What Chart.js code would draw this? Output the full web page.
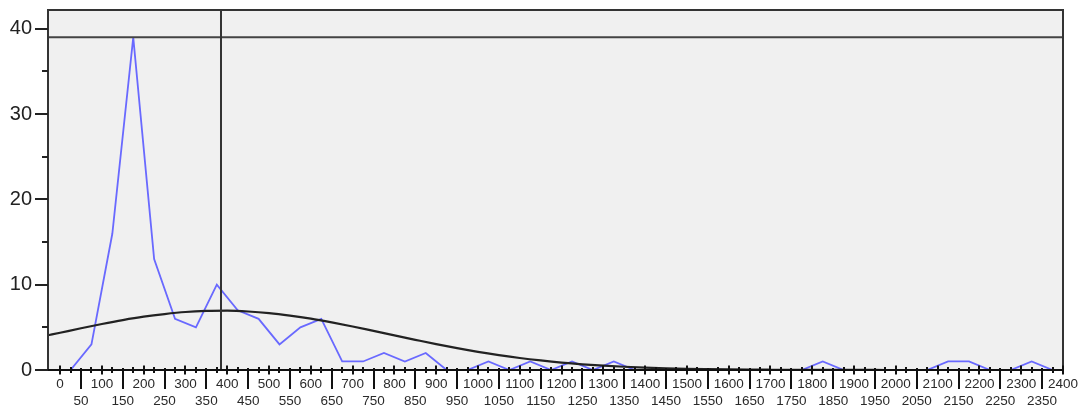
<!DOCTYPE html>
<html>
<head>
<meta charset="utf-8">
<script src="https://cdn.jsdelivr.net/npm/chart.js@4"></script>
<style>
  html, body { margin: 0; padding: 0; background: #ffffff; }
  #wrap { width: 1087px; height: 407px; position: relative; }
</style>
</head>
<body>
<div id="wrap"><canvas id="c" width="1087" height="407"></canvas></div>
<script>
// ---- data ----
const binMids = [25,75,125,175,225,275,325,375,425,475,525,575,625,675,725,775,825,875,925,975,
  1025,1075,1125,1175,1225,1275,1325,1375,1425,1475,1525,1575,1625,1675,1725,1775,1825,1875,
  1925,1975,2025,2075,2125,2175,2225,2275,2325,2375];
const counts = [0,3,16,39,13,6,5,10,7,6,3,5,6,1,1,2,1,2,0,0,
  1,0,1,0,1,0,1,0,0,0,0,0,0,0,0,0,1,0,
  0,0,0,0,1,1,0,0,1,0];

// fitted normal curve
const curveX = [-29,0,50,100,150,200,250,300,350,400,450,500,550,600,650,700,750,800,850,900,950,
  1000,1050,1100,1150,1200,1250,1300,1350,1400,1450,1500,1550,1600,1650,1700,1750,1800,1850,1900,
  1950,2000,2050,2100,2400];
const curveY = [4.07,4.37,4.89,5.39,5.85,6.25,6.56,6.80,6.92,6.95,6.86,6.67,6.38,6.02,5.58,5.10,4.58,4.06,3.54,3.03,2.56,
  2.13,1.75,1.41,1.12,0.87,0.67,0.51,0.38,0.28,0.20,0.14,0.10,0.069,0.047,0.031,0.021,0.013,0.008,0.005,
  0.003,0.002,0.001,0.001,0];

const meanValue = 385;   // vertical reference line
const maxValue = 39;     // horizontal reference line

const xMin = -29, xMax = 2400;
const yMin = 0, yMax = 42.2;
const xLabelValues = [0,50,100,150,200,250,300,350,400,450,500,550,600,650,700,750,800,850,900,950,
  1000,1050,1100,1150,1200,1250,1300,1350,1400,1450,1500,1550,1600,1650,1700,1750,1800,1850,1900,
  1950,2000,2050,2100,2150,2200,2250,2300,2350,2400];
const xMinorTicks = [25,75,125,175,225,275,325,375,425,475,525,575,625,675,725,775,825,875,925,975,
  1025,1075,1125,1175,1225,1275,1325,1375,1425,1475,1525,1575,1625,1675,1725,1775,1825,1875,1925,
  1975,2025,2075,2125,2175,2225,2275,2325,2375];
const yLabelValues = [0,10,20,30,40];
const yMinorTicks = [5,15,25,35];

// ---- build datasets ----
const histPoints = binMids.map((x, i) => ({ x: x, y: counts[i] }));
const curvePoints = curveX.map((x, i) => ({ x: x, y: curveY[i] }));

const framePlugin = {
  id: 'frame',
  beforeDatasetsDraw(chart) {
    const { ctx, chartArea: a } = chart;
    ctx.save();
    ctx.fillStyle = '#f0f0f0';
    ctx.fillRect(a.left, a.top, a.right - a.left, a.bottom - a.top);
    ctx.restore();
  },
  afterDraw(chart) {
    const { ctx, chartArea: a } = chart;
    const xs = chart.scales.x, ys = chart.scales.y;
    ctx.save();
    // frame
    ctx.strokeStyle = '#333333';
    ctx.lineWidth = 2;
    ctx.beginPath();
    ctx.moveTo(a.left, a.bottom);
    ctx.lineTo(a.left, a.top);
    ctx.lineTo(a.right, a.top);
    ctx.lineTo(a.right, a.bottom);
    ctx.stroke();
    // axis line
    ctx.strokeStyle = '#111111';
    ctx.beginPath();
    ctx.moveTo(a.left, a.bottom);
    ctx.lineTo(a.right, a.bottom);
    ctx.stroke();
    // y ticks
    ctx.lineWidth = 2;
    ctx.strokeStyle = '#222222';
    yLabelValues.forEach(v => {
      const p = Math.round(ys.getPixelForValue(v));
      ctx.beginPath(); ctx.moveTo(a.left - 13, p); ctx.lineTo(a.left, p); ctx.stroke();
    });
    yMinorTicks.forEach(v => {
      const p = Math.round(ys.getPixelForValue(v));
      ctx.beginPath(); ctx.moveTo(a.left - 6, p); ctx.lineTo(a.left, p); ctx.stroke();
    });
    // x ticks
    const b = a.bottom;
    ctx.strokeStyle = '#111111';
    xMinorTicks.forEach(v => {
      const p = Math.round(xs.getPixelForValue(v));
      ctx.beginPath(); ctx.moveTo(p, b - 3); ctx.lineTo(p, b + 3); ctx.stroke();
    });
    xLabelValues.forEach(v => {
      const p = Math.round(xs.getPixelForValue(v));
      ctx.beginPath();
      if (v % 100 === 0) { ctx.moveTo(p, b - 4.5); ctx.lineTo(p, b + 4.5); }
      else { ctx.moveTo(p, b - 2); ctx.lineTo(p, b + 19); }
      ctx.stroke();
    });
    ctx.restore();
  }
};

new Chart(document.getElementById('c'), {
  type: 'line',
  data: {
    datasets: [
      {
        label: 'Frequency',
        data: histPoints,
        borderColor: 'rgb(105,105,255)',
        borderWidth: 1.8,
        pointRadius: 0,
        tension: 0,
        fill: false,
        order: 3
      },
      {
        label: 'Normal',
        data: curvePoints,
        borderColor: '#222222',
        borderWidth: 2.2,
        pointRadius: 0,
        cubicInterpolationMode: 'monotone',
        fill: false,
        order: 2
      },
      {
        label: 'Mean',
        data: [{ x: meanValue, y: yMin }, { x: meanValue, y: yMax }],
        borderColor: '#333333',
        borderWidth: 2,
        pointRadius: 0,
        fill: false,
        order: 1
      },
      {
        label: 'Max',
        data: [{ x: xMin, y: maxValue }, { x: xMax, y: maxValue }],
        borderColor: '#444444',
        borderWidth: 2,
        pointRadius: 0,
        fill: false,
        order: 1
      }
    ]
  },
  options: {
    responsive: false,
    animation: false,
    events: [],
    layout: { padding: { top: 10, right: 24, left: 0, bottom: 0 } },
    plugins: { legend: { display: false }, tooltip: { enabled: false } },
    scales: {
      x: {
        type: 'linear',
        min: xMin,
        max: xMax,
        border: { display: false },
        grid: { display: false, drawTicks: false },
        afterBuildTicks: s => { s.ticks = xLabelValues.map(v => ({ value: v })); },
        afterFit: s => { s.height = 37; s.paddingLeft = 0; s.paddingRight = 0; },
        ticks: {
          autoSkip: false,
          maxRotation: 0,
          minRotation: 0,
          padding: 5,
          color: '#2a2a2a',
          font: { family: 'Liberation Sans, Arial, sans-serif', size: 13.5, lineHeight: 1.31 },
          callback: v => (v % 100 === 0 ? String(v) : ['', String(v)])
        }
      },
      y: {
        min: yMin,
        max: yMax,
        border: { display: false },
        grid: { display: false, drawTicks: false },
        afterBuildTicks: s => { s.ticks = yLabelValues.map(v => ({ value: v })); },
        afterFit: s => { s.width = 48; s.paddingTop = 0; s.paddingBottom = 0; },
        ticks: {
          padding: 16,
          color: '#222222',
          font: { family: 'Liberation Sans, Arial, sans-serif', size: 20 }
        }
      }
    }
  },
  plugins: [framePlugin]
});
</script>
</body>
</html>
